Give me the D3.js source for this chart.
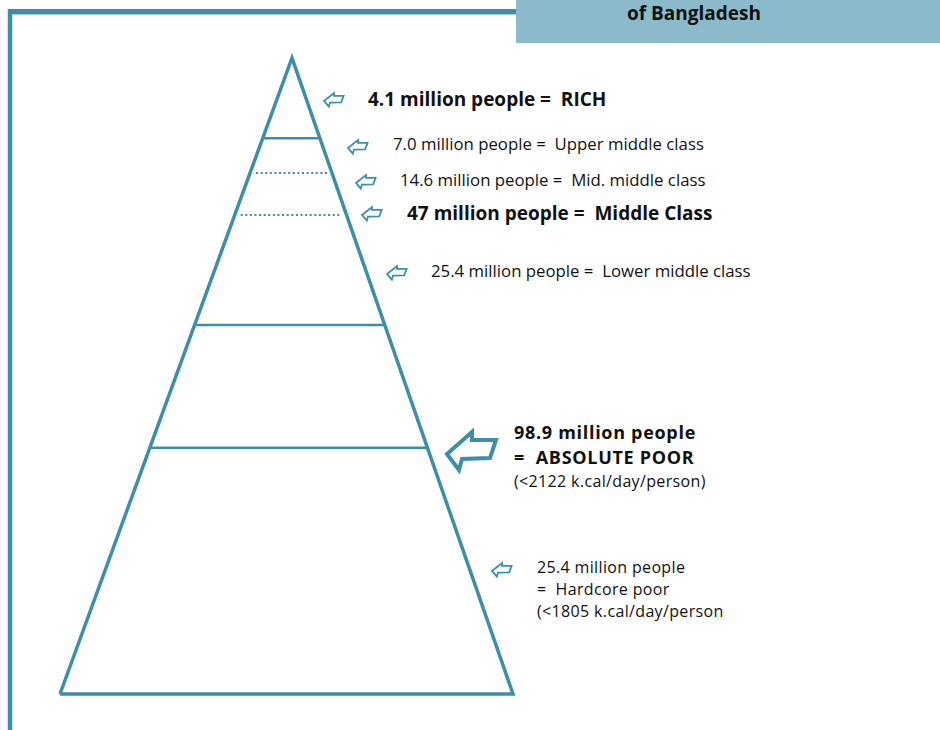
<!DOCTYPE html>
<html>
<head>
<meta charset="utf-8">
<script src="https://cdn.jsdelivr.net/npm/d3@7"></script>
<style>
  body { margin: 0; background: #fff; }
  text { font-family: "Open Sans", "Noto Sans", sans-serif; fill: #111; white-space: pre; }
</style>
</head>
<body>
<svg id="chart" width="940" height="730"></svg>
<script>
// class groups, top of pyramid first
const groups = ["RICH", "Upper middle class", "Mid. middle class", "Middle Class", "Lower middle class", "ABSOLUTE POOR", "Hardcore poor"];
const millions = [4.1, 7.0, 14.6, 47, 25.4, 98.9, 25.4];
// where each horizontal divider sits, as share of pyramid height from apex
const dividers = [0.126, 0.181, 0.247, 0.420, 0.613];
const dividerDotted = [false, true, true, false, false];
const notes = ["", "", "", "", "", "(<2122 k.cal/day/person)", "(<1805 k.cal/day/person"];

const svg = d3.select("#chart");
const teal = "#3d8fa9";

// header box
svg.append("rect").attr("x", 516).attr("y", 0).attr("width", 424).attr("height", 43).attr("fill", "#8bbacb");
svg.append("text").attr("x", 694).attr("y", 20).attr("text-anchor", "middle")
  .style("font-weight", "700").style("font-size", "19px").text("of Bangladesh");

// frame
svg.append("line").attr("x1", 10).attr("x2", 10).attr("y1", 9).attr("y2", 730)
  .attr("stroke", teal).attr("stroke-width", 4.5);
svg.append("line").attr("x1", 8).attr("x2", 516).attr("y1", 11.5).attr("y2", 11.5)
  .attr("stroke", teal).attr("stroke-width", 5);
svg.append("line").attr("x1", 12).attr("x2", 516).attr("y1", 14.5).attr("y2", 14.5)
  .attr("stroke", "#a9d0dc").attr("stroke-width", 1);

// pyramid scales
const apex = [292, 58], baseL = 60, baseR = 513, baseY = 694;
const y = d3.scaleLinear().domain([0, 1]).range([apex[1], baseY]);
const xL = d3.scaleLinear().domain([0, 1]).range([apex[0], baseL]);
const xR = d3.scaleLinear().domain([0, 1]).range([apex[0], baseR]);

const g = svg.append("g");
g.append("path")
  .attr("d", d3.line()([[xL(1), y(1)], apex, [xR(1), y(1)], [xL(1), y(1)]]))
  .attr("fill", "none").attr("stroke", teal).attr("stroke-width", 3.5).attr("stroke-linejoin", "miter");

g.selectAll(".div").data(dividers).join("line")
  .attr("class", "div")
  .attr("x1", (d, i) => xL(d) + (dividerDotted[i] ? 6 : 0))
  .attr("x2", (d, i) => xR(d) - (dividerDotted[i] ? 5 : 0))
  .attr("y1", d => y(d)).attr("y2", d => y(d))
  .attr("stroke", teal)
  .attr("stroke-width", (d, i) => dividerDotted[i] ? 2 : 2.5)
  .attr("stroke-dasharray", (d, i) => dividerDotted[i] ? "2,2.6" : null);

// annotation layout: arrow left/top, text x, baselines, font size, bold
const layout = [
  { ax: 324, ay: 93,  tx: 368, ty: [106], fs: 19, bold: true },
  { ax: 348, ay: 140, tx: 393, ty: [150], fs: 16.8, bold: false },
  { ax: 356, ay: 175, tx: 400, ty: [186], fs: 16.8, bold: false },
  { ax: 362, ay: 207, tx: 407, ty: [220], fs: 19, bold: true },
  { ax: 387, ay: 266, tx: 431, ty: [277], fs: 16.8, bold: false },
  { ax: 447, ay: 432, tx: 514, ty: [439, 464, 487], fs: 18, bold: true, big: true, ls: 0.7 },
  { ax: 492, ay: 563, tx: 537, ty: [573, 595, 617], fs: 16, bold: false, ls: 0.35 }
];

// hollow left arrow outline (big arrow reference size 49 x 38)
const arrowPts = [[0, 22], [25, 0], [25, 8], [49, 8], [43, 26], [15, 27], [12, 38]];

layout.forEach((L, i) => {
  const sx = L.big ? 1 : 0.4, sy = L.big ? 1 : 0.36;
  svg.append("path")
    .attr("d", d3.line()(arrowPts.map(p => [L.ax + p[0] * sx, L.ay + p[1] * sy])) + "Z")
    .attr("fill", "#fff").attr("stroke", teal)
    .attr("stroke-width", L.big ? 4 : 1.8).attr("stroke-linejoin", "miter");

  const label = millions[i] + (millions[i] % 1 === 0 && millions[i] !== 47 ? ".0" : "") + " million people";
  const line = (txt, yy, fs, bold, ls) => svg.append("text").attr("x", L.tx).attr("y", yy)
    .style("font-size", fs + "px").style("font-weight", bold ? "700" : "400")
    .style("letter-spacing", (ls || 0) + "px").text(txt);
  if (L.ty.length > 1) {
    line(label, L.ty[0], L.fs, L.bold, L.ls);
    line("=  " + groups[i], L.ty[1], L.fs, L.bold, L.ls);
    line(notes[i], L.ty[2], 16, false, 0.35);
  } else {
    line(label + " =  " + groups[i], L.ty[0], L.fs, L.bold);
  }
});
</script>
</body>
</html>
